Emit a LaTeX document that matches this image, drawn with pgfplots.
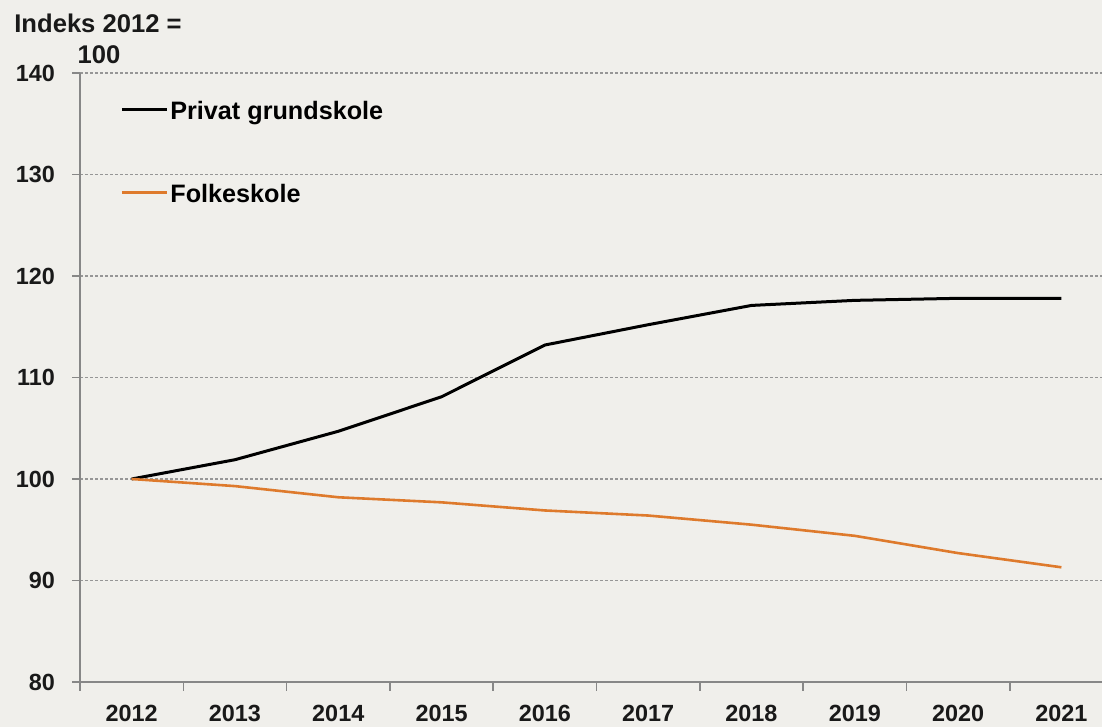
\documentclass[border=0pt]{standalone}
\usepackage{fontspec}
\setmainfont{Liberation Sans}
\usepackage{pgfplots}
\pgfplotsset{compat=1.18}
\definecolor{bgc}{RGB}{240,239,235}
\definecolor{orangeline}{RGB}{222,122,44}
\definecolor{axgray}{RGB}{135,135,135}
\definecolor{gridgray}{RGB}{150,150,150}
\newcommand{\lblfont}{\bfseries\fontsize{11.7}{14}\selectfont}
\newcommand{\legfont}{\bfseries\fontsize{12.6}{15}\selectfont}
\newcommand{\titfont}{\bfseries\fontsize{12.8}{15}\selectfont}
\begin{document}
\begin{tikzpicture}
\fill[bgc] (-40pt,-22.5pt) rectangle (511pt,341pt);
\begin{axis}[
  scale only axis,
  width=511pt, height=304.5pt,
  xmin=-0.5, xmax=9.393,
  ymin=80, ymax=140,
  ytick={80,90,...,140},
  xtick={0,...,9},
  xticklabels={2012,2013,2014,2015,2016,2017,2018,2019,2020,2021},
  minor xtick={-0.5,0.5,...,8.5},
  major x tick style={draw=none},
  axis x line=bottom, axis y line=left,
  axis line style={-, draw=axgray, line width=0.75pt},
  tick style={draw=axgray, line width=0.75pt},
  tick align=outside,
  major tick length=4pt,
  minor tick length=4.5pt,
  ymajorgrids,
  major grid style={draw=gridgray, line width=0.7pt, dash pattern=on 1.5pt off 1pt},
  /pgf/number format/assume math mode=true,
  ticklabel style={font=\lblfont, text=black!90},
  xticklabel style={inner sep=0pt, yshift=-7.6pt},
  yticklabel style={xshift=-5pt},
  clip=false,
  legend cell align=left,
  legend style={draw=none, fill=none, inner sep=0pt,
    at={(axis description cs:0.0391,0.871)}, anchor=west,
    font=\legfont, row sep=32.5pt, column sep=1pt,
    nodes={inner sep=0pt, text height=9pt, text depth=0pt}},
  legend image code/.code={\draw[#1] (0pt,0.3pt) -- (22.5pt,0.3pt);},
]
\addplot[black, line width=1.5pt] coordinates {
 (0,100) (1,101.9) (2,104.7) (3,108.1) (4,113.2) (5,115.2) (6,117.1) (7,117.6) (8,117.8) (9,117.8)};
\addlegendentry{Privat grundskole}
\addplot[orangeline, line width=1.3pt] coordinates {
 (0,100) (1,99.3) (2,98.2) (3,97.7) (4,96.9) (5,96.4) (6,95.5) (7,94.4) (8,92.7) (9,91.3)};
\addlegendentry{Folkeskole}
\node[anchor=base, font=\titfont, text=black!90] at (axis description cs:0.0176,1.067) {Indeks 2012 =};
\node[anchor=base, font=\titfont, text=black!90] at (axis description cs:0.0186,1.0164) {100};
\end{axis}
\pgfresetboundingbox
\useasboundingbox (-40pt,-22.5pt) rectangle (511pt,341pt);
\end{tikzpicture}
\end{document}
